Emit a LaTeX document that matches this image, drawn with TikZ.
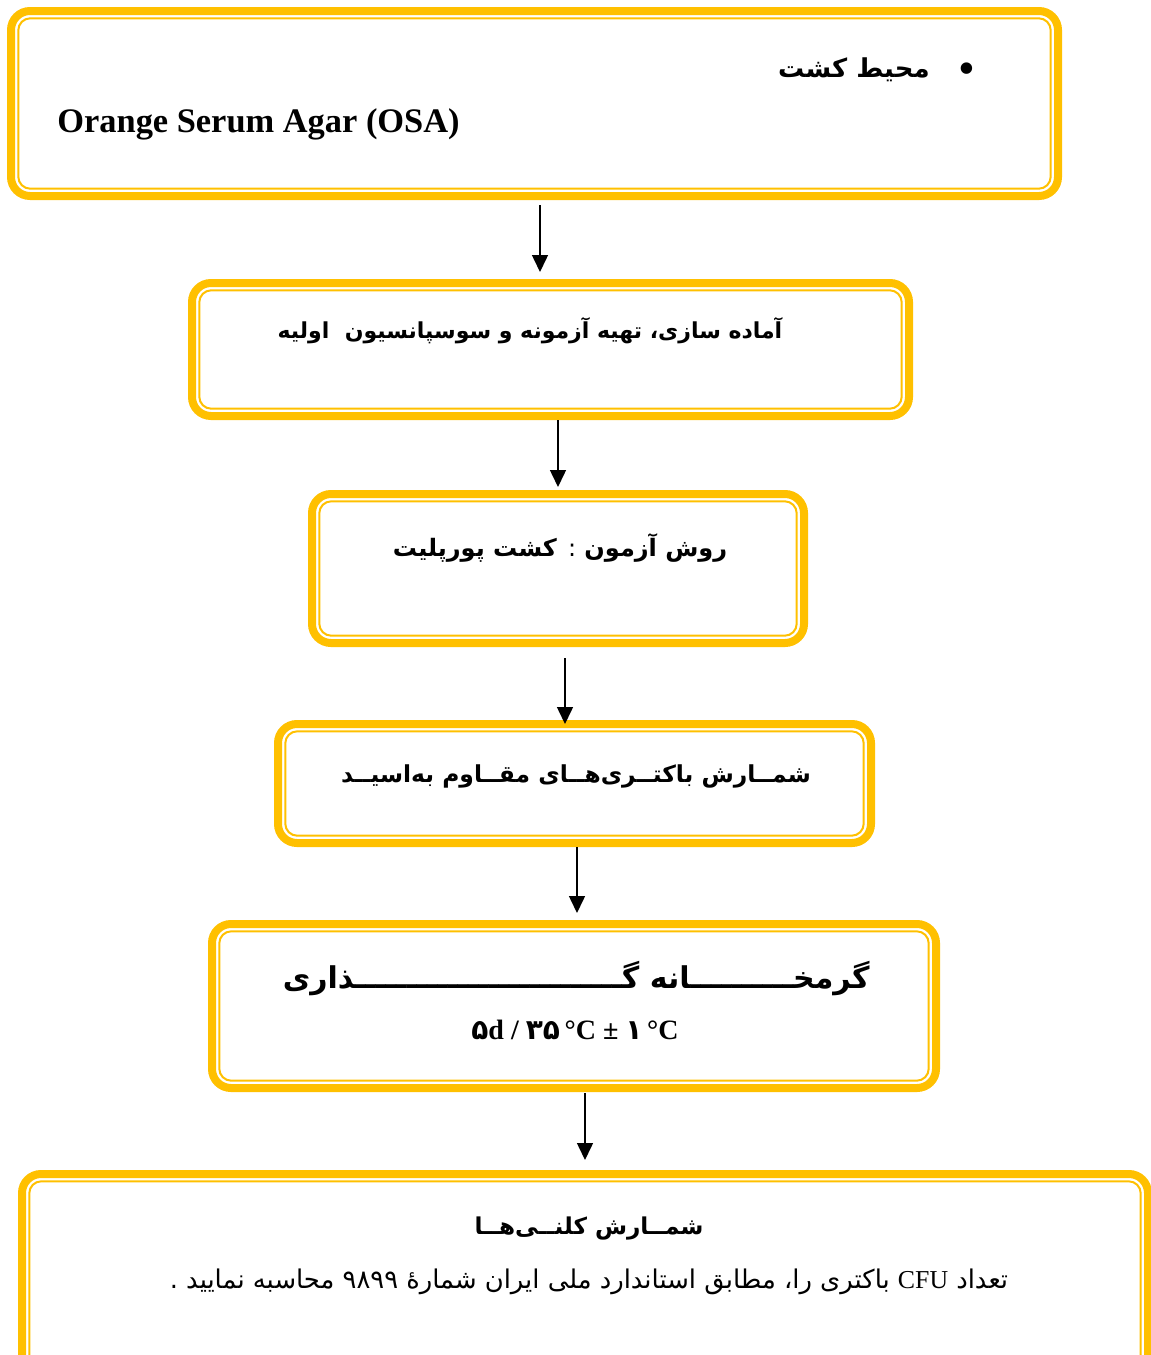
\documentclass[tikz,border=0pt]{standalone}
\usepackage{fontspec}
\setmainfont{Liberation Serif}
\newfontfamily\farsi[Script=Arabic]{DejaVu Sans}
\TeXXeTstate=1
\usetikzlibrary{arrows.meta}
\definecolor{boxgold}{HTML}{FFC000}

\tikzset{
  stagebox/.style={draw=boxgold, line width=4pt, rounded corners=9.5pt, inner sep=0pt},
  innerline/.style={draw=boxgold, line width=1pt, rounded corners=6pt},
  flowarrow/.style={-{Triangle[width=8pt,length=8.5pt]}, line width=0.75pt},
  fatext/.style={font=\farsi\bfseries\fontsize{#1}{16}\selectfont, inner sep=0pt},
  fatext/.default=13
}

\begin{document}
\begin{tikzpicture}[x=0.5pt,y=-0.5pt]
\useasboundingbox (0,0) rectangle (1151,1355);
\clip (0,0) rectangle (1151,1355);

% boxes
\node[stagebox, minimum width=523.5pt, minimum height=92.5pt] (osa) at (534.5,103.5) {};
\node[stagebox, minimum width=358.5pt, minimum height=66.5pt] (prep) at (550.5,349.5) {};
\node[stagebox, minimum width=246pt, minimum height=74.5pt] (method) at (558,568.5) {};
\node[stagebox, minimum width=296.5pt, minimum height=59.5pt] (count) at (574.5,783.5) {};
\node[stagebox, minimum width=362pt, minimum height=82pt] (incub) at (574,1006) {};
\node[stagebox, minimum width=563pt, minimum height=111pt] (colony) at (585,1285) {};

\foreach \b in {osa,prep,method,count,incub,colony}
  \draw[innerline] ([shift={(5.65pt,5.65pt)}]\b.south west) rectangle ([shift={(-5.65pt,-5.65pt)}]\b.north east);

% texts
\node[font=\fontsize{24}{26}\selectfont, inner sep=0pt] (bullet) at (967,74) {•};
\node[fatext, anchor=east] (mediumlabel) at (930,70) {\beginR محیط کشت\endR};
\node[font=\bfseries\fontsize{17.2}{20}\selectfont, anchor=west, inner sep=0pt] (osaname) at (57,124) {Orange Serum Agar (OSA)};

\node[fatext=11] (preptext) at (530,331) {\beginR آماده سازی، تهیه آزمونه و سوسپانسیون\ \ اولیه\endR};
\node[fatext=12] (methodtext) at (560,548) {\beginR روش آزمون {\mdseries :} کشت پورپلیت\endR};
\node[fatext=11.7] (counttext) at (576,776) {\beginR شمــارش باکتــری‌هــای مقــاوم به‌اسیــد\endR};
\node[fatext=15] (incubtext) at (576,979) {\beginR گرمخــــــــــانه گــــــــــــــــــــــــــذاری\endR};
\node[font=\bfseries\fontsize{14}{16}\selectfont, inner sep=0pt] (incubtime) at (575,1030) {{\farsi ۵}d / {\farsi ۳۵}\,°C ± {\farsi ۱}\,°C};

\node[fatext=11.6] (colonytext) at (589,1229) {\beginR شمــارش کلنــی‌هــا\endR};
\node[font=\farsi\fontsize{12.9}{15}\selectfont, inner sep=0pt] (colonynote) at (589,1282) {\beginR تعداد \beginL{\rmfamily CFU}\endL{} باکتری را، مطابق استاندارد ملی ایران شمارهٔ ۹۸۹۹ محاسبه نمایید .\endR};

% arrows
\draw[flowarrow, shorten <=2.5pt, shorten >=3.5pt] ([xshift=2.75pt]osa.south) -- ([xshift=-5.25pt]prep.north);
\draw[flowarrow, shorten >=1.5pt] ([xshift=3.75pt]prep.south) -- (method.north);
\draw[flowarrow, shorten <=5.5pt, shorten >=-2pt] ([xshift=3.5pt]method.south) -- ([xshift=-4.75pt]count.north);
\draw[flowarrow, shorten >=3.5pt] ([xshift=1.25pt]count.south) -- ([xshift=1.5pt]incub.north);
\draw[flowarrow, shorten <=0.5pt, shorten >=5pt] ([xshift=5.5pt]incub.south) -- (colony.north);

\end{tikzpicture}
\end{document}
